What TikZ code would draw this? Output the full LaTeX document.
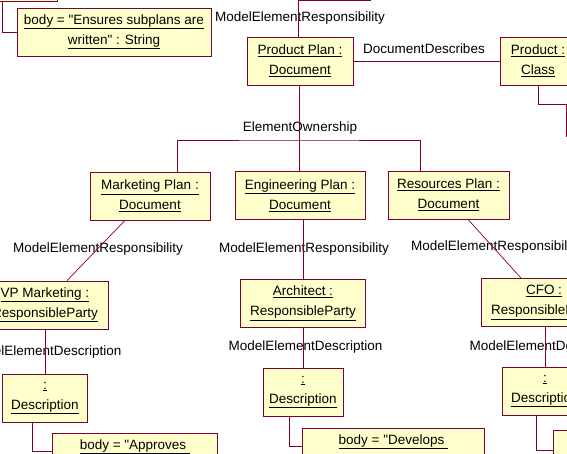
\documentclass[tikz,border=0pt]{standalone}
\usepackage{fontspec}
\setmainfont{Liberation Sans}
\definecolor{edge}{RGB}{128,0,48}
\definecolor{objfill}{RGB}{255,255,204}
\tikzset{
  obj/.style={draw=edge, fill=objfill, line width=0.8pt, align=center, minimum height=48pt, inner sep=2pt},
  link/.style={draw=edge, line width=0.7pt},
}
\begin{document}
\begin{tikzpicture}[x=1pt,y=-1pt,font=\fontsize{13.5}{20}\selectfont]
			\useasboundingbox (0,0) rectangle (567,453);
			\clip (0,0) rectangle (567,453);
			% objects
			\node[obj, minimum width=85pt] (d0) at (14.5,-23) {};
			\node[obj, minimum width=194pt] (b0) at (114,32) {\underline{body = \textquotedbl Ensures subplans are}\\\underline{written\textquotedbl\ : String}};
			\node[obj, minimum width=106pt] (pp) at (300,61) {\underline{Product Plan :}\\\underline{Document}};
			\node[obj, minimum width=76pt] (pc) at (538,61) {\underline{Product :}\\\underline{Class}};
			\node[obj, minimum width=120pt] (mp) at (150,196) {\underline{Marketing Plan :}\\\underline{Document}};
			\node[obj, minimum width=130pt] (ep) at (300,195.5) {\underline{Engineering Plan :}\\\underline{Document}};
			\node[obj, minimum width=121pt] (rp) at (448.5,195) {\underline{Resources Plan :}\\\underline{Document}};
			\node[obj, minimum width=126pt] (vp) at (45,305) {\underline{VP Marketing :}\\\underline{ResponsibleParty}};
			\node[obj, minimum width=125pt] (ar) at (303,303.5) {\underline{Architect :}\\\underline{ResponsibleParty}};
			\node[obj, minimum width=126pt] (cfo) at (544,302.5) {\underline{CFO :}\\\underline{ResponsibleParty}};
			\node[obj, minimum width=85pt] (d1) at (45,398) {\underline{:}\\\underline{Description}};
			\node[obj, minimum width=80pt] (d2) at (303,392) {\underline{:}\\\underline{Description}};
			\node[obj, minimum width=86pt] (d3) at (545,391) {\underline{:}\\\underline{Description}};
			\node[obj, anchor=north west, minimum width=165pt] (b1) at (52,433) {\underline{body = \textquotedbl Approves }\\\strut};
			\node[obj, anchor=north west, minimum width=182pt] (b2) at (302,428) {\underline{body = \textquotedbl Develops }\\\strut};
			\node[obj, anchor=north west, minimum width=180pt] (b3) at (553,430) {};
			% association names
			\node (r0) at (300,18) {ModelElementResponsibility};
			\node (dd) at (424,49) {DocumentDescribes};
			\node (eo) at (300,128) {ElementOwnership};
			\node (r1) at (98,249) {ModelElementResponsibility};
			\node (r2) at (304,249) {ModelElementResponsibility};
			\node (r3) at (496,247) {ModelElementResponsibility};
			\node (m1) at (44.5,352) {ModelElementDescription};
			\node (m2) at (305.5,347) {ModelElementDescription};
			\node (m3) at (546.5,347) {ModelElementDescription};
			% links
			\coordinate (own) at (299,140);
			\coordinate (up) at (370,-10);
			\coordinate (pcend) at (566,137);
			\draw[link] ([xshift=-12.5]d0.south) |- (b0.west);
			\draw[link] ([xshift=-2]pp.north) |- ++(72,-36) -- (up);
			\draw[link] (pp.east) -- (pc.west);
			\draw[link] (pc.south) -- ++(0,19) -| (pcend);
			\draw[link] ([xshift=-1]pp.south) -- (own);
			\draw[link] ([xshift=27]mp.north) |- (own) -| ([xshift=-28.5]rp.north);
			\draw[link] (own) -- ([xshift=-1]ep.north);
			\draw[link] ([xshift=-25]mp.south) -- ([xshift=22]vp.north);
			\draw[link] (ar.north) -- (ar.north |- ep.south);
			\draw[link] ([xshift=19.5]rp.south) -- ([xshift=-23]cfo.north);
			\draw[link] (vp) -- (d1);
			\draw[link] (ar) -- (d2);
			\draw[link] (cfo.south -| d3.north) -- (d3.north);
			\draw[link] ([xshift=-12.5]d1.south) |- ([yshift=-18]b1.north west);
			\draw[link] ([xshift=-14]d2.south) |- ([yshift=-18]b2.north west);
			\draw[link] ([xshift=-9]d3.south) |- ([yshift=-20]b3.north west);
		\end{tikzpicture}
\end{document}
